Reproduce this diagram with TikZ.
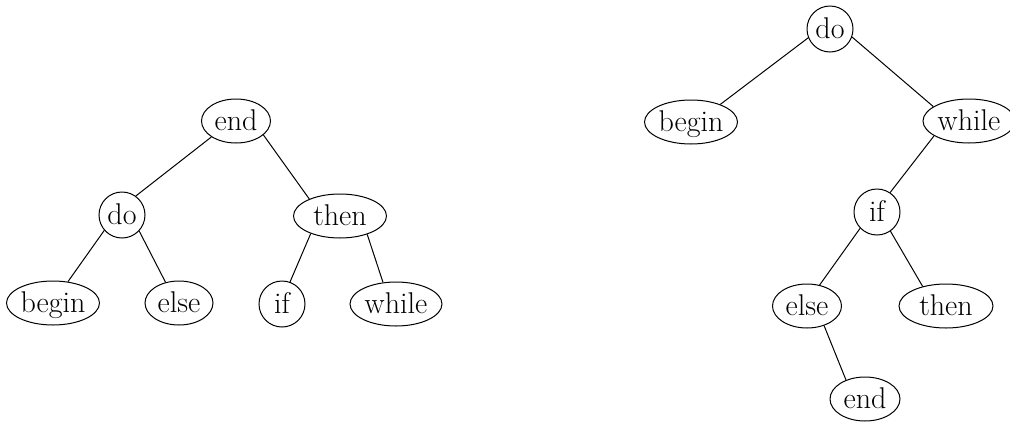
\documentclass[tikz,border=0pt]{standalone}
\usetikzlibrary{shapes.geometric}
\begin{document}
\begin{tikzpicture}[x=1pt,y=-1pt,
  every node/.style={font=\fontsize{30}{36}\selectfont, text height=19.5pt, text depth=1pt,
    draw, line width=1pt, inner sep=0pt},
  ov/.style={ellipse, inner xsep=-14pt, minimum height=44pt},
  rd/.style={circle, minimum size=46pt},
  edge/.style={line width=1pt}]
\useasboundingbox (0,0) rectangle (1010,421);
% left tree
\node[ov, minimum width=69pt] (Lend) at (236,121) {end};
\node[rd] (Ldo) at (122,215) {do};
\node[ov, minimum width=93pt] (Lthen) at (340,216) {then};
\node[ov, minimum width=93pt] (Lbegin) at (53,303) {begin};
\node[ov, minimum width=68pt] (Lelse) at (179,303) {else};
\node[rd] (Lif) at (282,304) {if};
\node[ov, minimum width=92pt] (Lwhile) at (396,304) {while};
% right tree
\node[rd] (Rdo) at (830,29) {do};
\node[ov, minimum width=93pt] (Rbegin) at (691,122) {begin};
\node[ov, minimum width=92pt] (Rwhile) at (969,121) {while};
\node[rd] (Rif) at (877,212) {if};
\node[ov, minimum width=69pt] (Relse) at (807,306) {else};
\node[ov, minimum width=94pt] (Rthen) at (946,306) {then};
\node[ov, minimum width=70pt] (Rend) at (865,399) {end};
% edges
\draw[edge] (Lend.213) -- (Ldo.54);
\draw[edge] (Lend.333) -- (Lthen.151);
\draw[edge] (Ldo.221) -- (Lbegin.55);
\draw[edge] (Ldo.317) -- (Lelse.123);
\draw[edge] (Lthen.211) -- (Lif.70);
\draw[edge] (Lthen.326) -- (Lwhile.121);
\draw[edge] (Rdo.202) -- (Rbegin.31);
\draw[edge] (Rdo.340) -- (Rwhile.158);
\draw[edge] (Rwhile.203) -- (Rif.56);
\draw[edge] (Rif.224) -- (Relse.59);
\draw[edge] (Rif.305) -- (Rthen.140);
\draw[edge] (Relse.311) -- (Rend.135);
\end{tikzpicture}
\end{document}
